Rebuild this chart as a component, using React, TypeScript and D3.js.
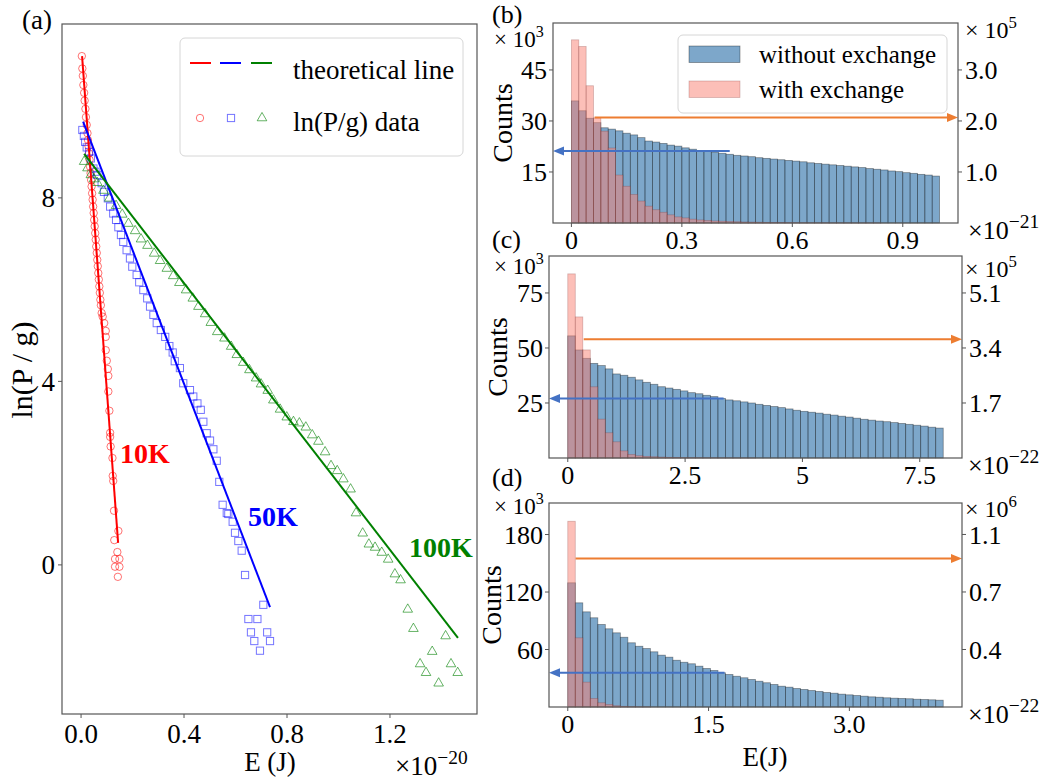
import * as d3 from 'd3'

type Pt = [number, number]

const FONT = '"Liberation Serif", "Times New Roman", Times, serif'

// ---------- panel (a): ln(P/g) vs E  (E in units of 1e-20 J) ----------
const aXTicks = [0, 0.4, 0.8, 1.2]
const aYTicks = [0, 4, 8]

const fit10K: Pt[] = [[0.004, 11.09], [0.144, 0.48]]
const fit50K: Pt[] = [[0.008, 9.66], [0.734, -0.92]]
const fit100K: Pt[] = [[0.012, 8.96], [1.464, -1.59]]

const data10K: Pt[] = [
  [0.003, 11.09], [0.005, 10.82], [0.007, 10.66], [0.009, 10.46], [0.012, 10.29], [0.014, 10.12],
  [0.017, 9.94], [0.019, 9.76], [0.022, 9.59], [0.025, 9.41], [0.027, 9.26], [0.029, 9.13],
  [0.031, 8.97], [0.033, 8.83], [0.035, 8.68], [0.037, 8.54], [0.039, 8.39], [0.041, 8.25],
  [0.043, 8.10], [0.045, 7.96], [0.047, 7.81], [0.049, 7.67], [0.051, 7.52], [0.053, 7.38],
  [0.055, 7.23], [0.057, 7.09], [0.059, 6.94], [0.061, 6.80], [0.063, 6.65], [0.065, 6.51],
  [0.067, 6.36], [0.069, 6.22], [0.071, 6.07], [0.073, 5.93], [0.075, 5.78], [0.077, 5.66],
  [0.080, 5.49], [0.084, 5.41], [0.090, 5.27], [0.096, 5.10], [0.096, 4.97], [0.096, 4.68],
  [0.100, 4.45], [0.104, 4.27], [0.106, 4.12], [0.106, 3.78], [0.110, 3.36], [0.113, 2.88],
  [0.113, 2.79], [0.115, 2.58], [0.122, 2.33], [0.123, 1.94], [0.125, 1.83], [0.128, 1.18],
  [0.145, 0.74], [0.129, 0.54], [0.141, 0.28], [0.132, 0.13], [0.149, 0.13], [0.132, -0.04],
  [0.149, -0.04], [0.143, -0.26],
]

const data50K: Pt[] = [
  [0.005, 9.48], [0.011, 9.35], [0.016, 9.22], [0.022, 9.10], [0.031, 9.0], [0.038, 8.86],
  [0.048, 8.64], [0.056, 8.57], [0.063, 8.50], [0.080, 8.32], [0.089, 8.13], [0.104, 7.99],
  [0.113, 7.81], [0.125, 7.66], [0.136, 7.52], [0.145, 7.36], [0.155, 7.19], [0.164, 7.04],
  [0.177, 6.86], [0.19, 6.68], [0.199, 6.50], [0.216, 6.32], [0.226, 6.16], [0.242, 5.99],
  [0.257, 5.81], [0.268, 5.63], [0.281, 5.45], [0.294, 5.27], [0.31, 5.12], [0.327, 4.97],
  [0.343, 4.77], [0.356, 4.63], [0.364, 4.44], [0.384, 4.29], [0.397, 3.96], [0.423, 3.81],
  [0.436, 3.67], [0.452, 3.52], [0.465, 3.38], [0.475, 3.12], [0.488, 2.87], [0.501, 2.71],
  [0.514, 2.52], [0.527, 2.27], [0.537, 1.81], [0.55, 1.31], [0.566, 1.13], [0.572, 1.11],
  [0.589, 0.94], [0.598, 0.70], [0.611, 0.52], [0.624, 0.31], [0.637, -0.22], [0.708, -0.87],
  [0.65, -1.18], [0.685, -1.18], [0.66, -1.47], [0.723, -1.47], [0.673, -1.66], [0.734, -1.66],
  [0.695, -1.87],
]

const data100K: Pt[] = [
  [0.012, 8.79], [0.025, 8.65], [0.038, 8.50], [0.050, 8.41], [0.063, 8.33], [0.087, 8.16],
  [0.110, 7.99], [0.136, 7.83], [0.16, 7.64], [0.184, 7.44], [0.21, 7.28], [0.233, 7.10],
  [0.258, 6.96], [0.284, 6.79], [0.307, 6.63], [0.333, 6.46], [0.358, 6.30], [0.382, 6.15],
  [0.408, 5.99], [0.434, 5.81], [0.456, 5.63], [0.482, 5.47], [0.504, 5.28], [0.529, 5.08],
  [0.557, 4.94], [0.583, 4.76], [0.605, 4.58], [0.63, 4.41], [0.654, 4.25], [0.68, 4.07],
  [0.699, 3.94], [0.725, 3.80], [0.747, 3.59], [0.773, 3.39], [0.799, 3.22], [0.825, 3.12],
  [0.848, 3.09], [0.873, 3.00], [0.898, 2.83], [0.922, 2.69], [0.948, 2.46], [0.971, 2.16],
  [0.995, 2.05], [1.019, 1.87], [1.047, 1.65], [1.068, 1.13], [1.094, 0.69], [1.118, 0.45],
  [1.142, 0.38], [1.168, 0.27], [1.193, 0.12], [1.219, -0.20], [1.241, -0.33], [1.269, -0.97],
  [1.291, -1.39], [1.416, -1.55], [1.364, -1.89], [1.317, -2.16], [1.437, -2.16], [1.34, -2.35],
  [1.463, -2.35], [1.389, -2.58],
]

// ---------- panels (b)-(d): histograms, 50 bins each ----------
// "without exchange" counts on the left axis (x1e3), "with exchange" on the right axis
const bWithout = [
  35.9, 33.0, 30.8, 29.5, 28.0, 27.6, 27.1, 26.4, 25.9, 25.1,
  24.1, 23.8, 23.4, 22.9, 22.6, 22.1, 21.7, 21.3, 21.0, 20.8,
  20.5, 20.2, 19.9, 19.7, 19.5, 19.2, 19.0, 18.8, 18.6, 18.4,
  18.2, 18.0, 17.7, 17.5, 17.3, 17.1, 16.9, 16.7, 16.5, 16.3,
  16.0, 15.8, 15.6, 15.3, 15.1, 14.8, 14.6, 14.3, 14.1, 13.8,
]
const bWith = [
  3.59, 3.46, 2.69, 2.06, 1.80, 1.47, 0.94, 0.72, 0.56, 0.43,
  0.33, 0.26, 0.21, 0.16, 0.12, 0.10, 0.075, 0.06, 0.05, 0.04,
  0.035, 0.03, 0.025, 0.02, 0.018, 0.015, 0.012, 0.01, 0.008, 0.007,
  0.006, 0.005, 0.004, 0.003, 0.003, 0.002, 0.002, 0.002, 0.001, 0.001,
  0.001, 0.001, 0, 0, 0, 0, 0, 0, 0, 0,
]

const cWithout = [
  55.5, 49.1, 45.3, 43.0, 42.0, 40.5, 38.2, 37.6, 36.7, 35.5,
  34.4, 33.5, 32.4, 31.8, 31.2, 30.5, 29.7, 29.2, 28.5, 27.9,
  27.1, 26.4, 26.0, 25.5, 25.0, 24.4, 23.9, 23.4, 22.9, 22.3,
  21.7, 21.2, 20.8, 20.4, 19.9, 19.5, 19.0, 18.6, 18.1, 17.6,
  17.2, 16.8, 16.5, 16.1, 15.7, 15.3, 14.9, 14.5, 14.0, 13.6,
]
const cWith = [
  5.69, 4.36, 3.34, 2.20, 1.20, 0.78, 0.50, 0.22, 0.11, 0.07,
  0.05, 0.04, 0.03, 0.02, 0.015, 0.01, 0.008, 0.006, 0.005, 0.004,
  0.003, 0.002, 0.002, 0.001, 0.001, 0, 0, 0, 0, 0,
  0, 0, 0, 0, 0, 0, 0, 0, 0, 0,
  0, 0, 0, 0, 0, 0, 0, 0, 0, 0,
]

const dWithout = [
  129.6, 108.7, 99.3, 93.1, 86.1, 81.6, 77.4, 72.8, 67.0, 63.4,
  61.0, 57.6, 54.1, 52.0, 48.8, 46.7, 45.1, 42.6, 40.2, 38.1,
  35.7, 33.9, 32.1, 30.5, 28.7, 26.9, 25.3, 23.5, 21.7, 20.7,
  19.3, 18.3, 17.2, 16.2, 15.1, 14.4, 13.4, 12.7, 12.0, 11.3,
  10.6, 10.2, 9.6, 9.2, 8.9, 8.6, 8.1, 7.8, 7.5, 7.1,
]
const dWith = [
  1.182, 0.44, 0.158, 0.054, 0.027, 0.016, 0.008, 0.004, 0.002, 0.001,
  0.001, 0, 0, 0, 0, 0, 0, 0, 0, 0,
  0, 0, 0, 0, 0, 0, 0, 0, 0, 0,
  0, 0, 0, 0, 0, 0, 0, 0, 0, 0,
  0, 0, 0, 0, 0, 0, 0, 0, 0, 0,
]

const bXTicks = [0, 0.3, 0.6, 0.9]
const bXLabels = ['0', '0.3', '0.6', '0.9']
const cXTicks = [0, 2.5, 5, 7.5]
const cXLabels = ['0', '2.5', '5', '7.5']
const dXTicks = [0, 1.5, 3.0]
const dXLabels = ['0', '1.5', '3.0']

const bLeftTicks = [15, 30, 45]
const bRightTicks = [1.0, 2.0, 3.0]
const cLeftTicks = [25, 50, 75]
const cRightTicks = [1.7, 3.4, 5.1]
const dLeftTicks = [60, 120, 180]
const dRightTicks = [0.366, 0.732, 1.098]

const BLUE_BAR = 'rgb(70,130,180)'
const PINK_BAR = '#FA8072'
const ORANGE = '#ED7D31'
const ARROW_BLUE = '#4472C4'
const SPINE = '#555'

function Sup({ x, y, base, exp, size = 24, ratio = 0.7, anchor = 'start' }: any) {
  return (
    <text x={x} y={y} fontSize={size} fontFamily={FONT} textAnchor={anchor}>
      {base}
      <tspan fontSize={size * ratio} dy={-size * 0.42}>{exp}</tspan>
    </text>
  )
}

function PanelA() {
  const L = 62, R = 477, T = 24, B = 714
  const x = d3.scaleLinear().domain([-0.074, 1.538]).range([L, R])
  const y = d3.scaleLinear().domain([-3.25, 11.79]).range([B, T])
  const line = d3.line<Pt>().x(d => x(d[0])).y(d => y(d[1]))
  const tri = d3.symbol().type(d3.symbolTriangle).size(40)()

  return (
    <g>
      <rect x={L} y={T} width={R - L} height={B - T} fill="white" />
      {data10K.map((d, i) => (
        <circle key={'r' + i} cx={x(d[0])} cy={y(d[1])} r={3.7} fill="none"
          stroke="red" strokeOpacity={0.55} strokeWidth={1} />
      ))}
      {data50K.map((d, i) => (
        <rect key={'b' + i} x={x(d[0]) - 3.6} y={y(d[1]) - 3.6} width={7.2} height={7.2} fill="none"
          stroke="blue" strokeOpacity={0.55} strokeWidth={1} />
      ))}
      {data100K.map((d, i) => (
        <path key={'g' + i} d={tri || ''} transform={`translate(${x(d[0])},${y(d[1])})`} fill="none"
          stroke="green" strokeOpacity={0.6} strokeWidth={1} />
      ))}
      <path d={line(fit10K) || ''} stroke="red" strokeWidth={2} fill="none" />
      <path d={line(fit50K) || ''} stroke="blue" strokeWidth={2} fill="none" />
      <path d={line(fit100K) || ''} stroke="green" strokeWidth={2} fill="none" />

      <text x={120} y={463} fontSize={28} fontWeight="bold" fill="red" fontFamily={FONT}>10K</text>
      <text x={248} y={526} fontSize={28} fontWeight="bold" fill="blue" fontFamily={FONT}>50K</text>
      <text x={409} y={557} fontSize={28} fontWeight="bold" fill="green" fontFamily={FONT}>100K</text>

      {/* legend */}
      <rect x={180} y={38} width={283} height={118} rx={5} fill="white" fillOpacity={0.85} stroke="#d6d6d6" />
      <line x1={190} x2={211} y1={63} y2={63} stroke="red" strokeWidth={2} />
      <line x1={220} x2={241} y1={63} y2={63} stroke="blue" strokeWidth={2} />
      <line x1={251} x2={272} y1={63} y2={63} stroke="green" strokeWidth={2} />
      <circle cx={200} cy={118} r={3.7} fill="none" stroke="red" strokeOpacity={0.55} />
      <rect x={227.4} y={114.4} width={7.2} height={7.2} fill="none" stroke="blue" strokeOpacity={0.55} />
      <path d={tri || ''} transform="translate(262,118)" fill="none" stroke="green" strokeOpacity={0.6} />
      <text x={293} y={79} fontSize={27} fontFamily={FONT}>theoretical line</text>
      <text x={293} y={131} fontSize={27} fontFamily={FONT}>ln(P/g) data</text>

      <rect x={L} y={T} width={R - L} height={B - T} fill="none" stroke={SPINE} strokeWidth={1.2} />
      {aXTicks.map(t => (
        <g key={'xt' + t}>
          <line x1={x(t)} x2={x(t)} y1={B} y2={B + 4} stroke={SPINE} />
          <text x={x(t)} y={B + 29} fontSize={27} textAnchor="middle" fontFamily={FONT}>{d3.format('.1f')(t)}</text>
        </g>
      ))}
      {aYTicks.map(t => (
        <g key={'yt' + t}>
          <line x1={L - 4} x2={L} y1={y(t)} y2={y(t)} stroke={SPINE} />
          <text x={L - 7} y={y(t)} dy="0.35em" fontSize={27} textAnchor="end" fontFamily={FONT}>{t}</text>
        </g>
      ))}
      <text x={270} y={771} fontSize={27} textAnchor="middle" fontFamily={FONT}>E (J)</text>
      <Sup x={395} y={775} base="×10" exp="−20" size={27} ratio={0.72} />
      <text transform={`translate(32,370) rotate(-90)`} fontSize={30} textAnchor="middle" fontFamily={FONT}>ln(P / g)</text>
      <text x={22} y={29} fontSize={27} fontFamily={FONT}>(a)</text>
    </g>
  )
}

interface HistProps {
  left: number; right: number; top: number; bottom: number
  xDomain: [number, number]; xMax: number
  without: number[]; withEx: number[]
  leftMax: number; ratio: number
  leftTicks: number[]; rightTicks: number[]
  xTicks: number[]; xLabels: string[]
  xExp: string; rightExp: string
  orange: Pt; blueArrow: Pt
  label: string; labelY: number
  leftOffY: number; rightOffY: number
  countsX: number
  showXLabel?: boolean
  legend?: boolean
}

function Hist(p: HistProps) {
  const x = d3.scaleLinear().domain(p.xDomain).range([p.left, p.right])
  const yL = d3.scaleLinear().domain([0, p.leftMax]).range([p.bottom, p.top])
  const yR = d3.scaleLinear().domain([0, p.leftMax / p.ratio]).range([p.bottom, p.top])
  const n = p.without.length
  const bw = p.xMax / n
  const oy = yR(p.orange[1])
  const by = yL(p.blueArrow[1])
  const f1 = d3.format('.1f')

  return (
    <g>
      {p.without.map((v, i) => (
        <rect key={'w' + i} x={x(i * bw)} y={yL(v)} width={x((i + 1) * bw) - x(i * bw)} height={p.bottom - yL(v)}
          fill={BLUE_BAR} fillOpacity={0.7} stroke="black" strokeOpacity={0.4} strokeWidth={0.8} />
      ))}
      {p.withEx.map((v, i) => v > 0 ? (
        <rect key={'p' + i} x={x(i * bw)} y={yR(v)} width={x((i + 1) * bw) - x(i * bw)} height={p.bottom - yR(v)}
          fill={PINK_BAR} fillOpacity={0.5} stroke="#7a2f2f" strokeOpacity={0.3} strokeWidth={0.8} />
      ) : null)}

      {/* arrows pointing to the relevant axis */}
      <line x1={x(p.orange[0])} x2={p.right - 10} y1={oy} y2={oy} stroke={ORANGE} strokeWidth={2} />
      <path d={`M${p.right},${oy}L${p.right - 11},${oy - 4.5}L${p.right - 11},${oy + 4.5}Z`} fill={ORANGE} />
      <line x1={x(p.blueArrow[0])} x2={p.left + 10} y1={by} y2={by} stroke={ARROW_BLUE} strokeWidth={2} />
      <path d={`M${p.left},${by}L${p.left + 11},${by - 4.5}L${p.left + 11},${by + 4.5}Z`} fill={ARROW_BLUE} />

      {p.legend && (
        <g>
          <rect x={678} y={35} width={269} height={78} rx={5} fill="white" fillOpacity={0.8} stroke="#d6d6d6" />
          <rect x={689} y={46} width={51} height={16.5} fill={BLUE_BAR} fillOpacity={0.7} stroke="black" strokeOpacity={0.4} strokeWidth={0.8} />
          <rect x={689} y={81} width={51} height={16.5} fill={PINK_BAR} fillOpacity={0.5} stroke="#7a2f2f" strokeOpacity={0.3} strokeWidth={0.8} />
          <text x={759} y={63} fontSize={25} fontFamily={FONT}>without exchange</text>
          <text x={759} y={98} fontSize={25} fontFamily={FONT}>with exchange</text>
        </g>
      )}

      <rect x={p.left} y={p.top} width={p.right - p.left} height={p.bottom - p.top} fill="none" stroke={SPINE} strokeWidth={1.2} />
      {p.xTicks.map((t, i) => (
        <g key={'xt' + t}>
          <line x1={x(t)} x2={x(t)} y1={p.bottom} y2={p.bottom + 4} stroke={SPINE} />
          <text x={x(t)} y={p.bottom + 26} fontSize={26} textAnchor="middle" fontFamily={FONT}>{p.xLabels[i]}</text>
        </g>
      ))}
      {p.leftTicks.map(t => (
        <g key={'lt' + t}>
          <line x1={p.left - 4} x2={p.left} y1={yL(t)} y2={yL(t)} stroke={SPINE} />
          <text x={p.left - 6} y={yL(t)} dy="0.35em" fontSize={26} textAnchor="end" fontFamily={FONT}>{t}</text>
        </g>
      ))}
      {p.rightTicks.map(t => (
        <g key={'rt' + t}>
          <line x1={p.right} x2={p.right + 4} y1={yR(t)} y2={yR(t)} stroke={SPINE} />
          <text x={p.right + 7} y={yR(t)} dy="0.35em" fontSize={26} textAnchor="start" fontFamily={FONT}>{f1(t)}</text>
        </g>
      ))}
      <Sup x={494} y={p.leftOffY} base="× 10" exp="3" size={23} />
      <Sup x={965} y={p.rightOffY} base="× 10" exp={p.rightExp} size={24} />
      <Sup x={968} y={p.bottom + 16} base="×10" exp={p.xExp} size={26} ratio={0.75} />
      <text transform={`translate(${p.countsX},${(p.top + p.bottom) / 2}) rotate(-90)`} fontSize={28}
        textAnchor="middle" fontFamily={FONT}>Counts</text>
      <text x={492} y={p.labelY} fontSize={26} fontFamily={FONT}>{p.label}</text>
      {p.showXLabel && (
        <text x={765} y={766} fontSize={27} textAnchor="middle" fontFamily={FONT}>E(J)</text>
      )}
    </g>
  )
}

export default function App() {
  return (
    <svg width={1045} height={781} style={{ position: 'absolute', left: 0, top: 0, background: 'white' }}>
      <rect width={1045} height={781} fill="white" />
      <PanelA />
      <Hist left={553} right={958} top={23} bottom={223}
        xDomain={[-0.05, 1.05]} xMax={1.0}
        without={bWithout} withEx={bWith}
        leftMax={58.8} ratio={15}
        leftTicks={bLeftTicks} rightTicks={bRightTicks}
        xTicks={bXTicks} xLabels={bXLabels}
        xExp="−21" rightExp="5"
        orange={[0.063, 2.07]} blueArrow={[0.43, 21.2]}
        label="(b)" labelY={23} leftOffY={47} rightOffY={38} countsX={512} legend />
      <Hist left={549} right={962} top={256} bottom={458}
        xDomain={[-0.4, 8.4]} xMax={8.0}
        without={cWithout} withEx={cWith}
        leftMax={91.8} ratio={14.706}
        leftTicks={cLeftTicks} rightTicks={cRightTicks}
        xTicks={cXTicks} xLabels={cXLabels}
        xExp="−22" rightExp="5"
        orange={[0.34, 3.67]} blueArrow={[3.32, 27.0]}
        label="(c)" labelY={248} leftOffY={274} rightOffY={277} countsX={507} />
      <Hist left={549} right={962} top={503} bottom={707}
        xDomain={[-0.2, 4.2]} xMax={4.0}
        without={dWithout} withEx={dWith}
        leftMax={212.9} ratio={164}
        leftTicks={dLeftTicks} rightTicks={dRightTicks}
        xTicks={dXTicks} xLabels={dXLabels}
        xExp="−22" rightExp="6"
        orange={[0.083, 0.945]} blueArrow={[1.67, 35.7]}
        label="(d)" labelY={486} leftOffY={514} rightOffY={517} countsX={501} showXLabel />
    </svg>
  )
}
